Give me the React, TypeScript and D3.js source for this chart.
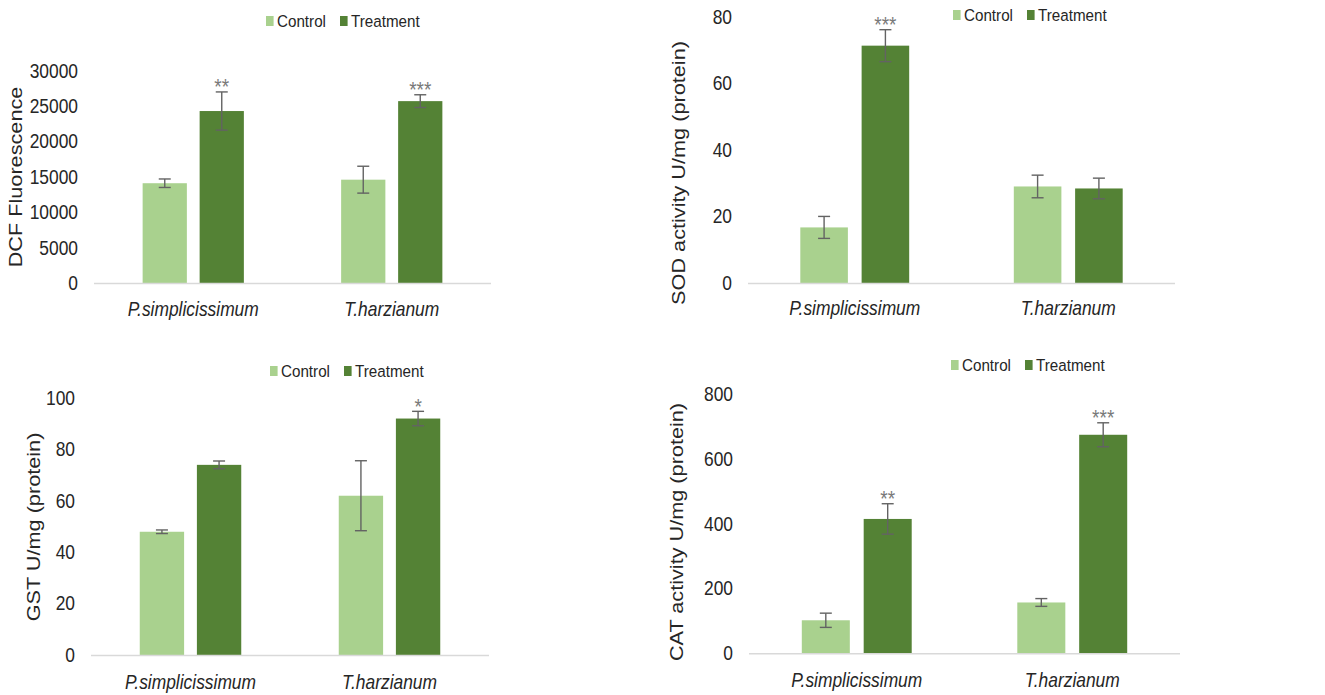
import React from "react";
import * as d3 from "d3";

// categories and series
const species = ["P.simplicissimum", "T.harzianum"];
const seriesNames = ["Control", "Treatment"];

// DCF fluorescence
const dcfControl = [14100, 14600];
const dcfControlErr = [600, 1900];
const dcfTreatment = [24300, 25700];
const dcfTreatmentErr = [2700, 900];
const dcfStars = ["**", "***"];
const dcfTicks = [0, 5000, 10000, 15000, 20000, 25000, 30000];

// SOD activity
const sodControl = [16.7, 29.0];
const sodControlErr = [3.3, 3.4];
const sodTreatment = [71.3, 28.4];
const sodTreatmentErr = [4.8, 3.1];
const sodStars = ["***", ""];
const sodTicks = [0, 20, 40, 60, 80];

// GST
const gstControl = [47.9, 61.9];
const gstControlErr = [0.7, 13.6];
const gstTreatment = [73.9, 91.9];
const gstTreatmentErr = [1.5, 2.8];
const gstStars = ["", "*"];
const gstTicks = [0, 20, 40, 60, 80, 100];

// CAT activity
const catControl = [102, 157];
const catControlErr = [22, 12];
const catTreatment = [415, 675];
const catTreatmentErr = [47, 37];
const catStars = ["**", "***"];
const catTicks = [0, 200, 400, 600, 800];

const COLORS = ["#A9D18E", "#548235"];
const FONT = "'Liberation Sans', Arial, Helvetica, sans-serif";
const TEXT = "#262626";
const SY = 1.13; // the source image is slightly stretched vertically

const panels = [
  {
    title: "DCF Fluorescence",
    control: dcfControl, controlErr: dcfControlErr,
    treatment: dcfTreatment, treatmentErr: dcfTreatmentErr,
    stars: dcfStars, ticks: dcfTicks,
    box: { x0: 94, x1: 491, y0: 283, yTop: 70.7, legX: 266, legY: 21, titleX: 15.5, titleY: 177, labY: 309 },
  },
  {
    title: "SOD activity U/mg (protein)",
    control: sodControl, controlErr: sodControlErr,
    treatment: sodTreatment, treatmentErr: sodTreatmentErr,
    stars: sodStars, ticks: sodTicks,
    box: { x0: 748, x1: 1175, y0: 283, yTop: 16.7, legX: 953, legY: 15, titleX: 678, titleY: 173, labY: 308 },
  },
  {
    title: "GST U/mg (protein)",
    control: gstControl, controlErr: gstControlErr,
    treatment: gstTreatment, treatmentErr: gstTreatmentErr,
    stars: gstStars, ticks: gstTicks,
    box: { x0: 91, x1: 489, y0: 655, yTop: 397.7, legX: 270, legY: 371, titleX: 33, titleY: 527, labY: 682 },
  },
  {
    title: "CAT activity U/mg (protein)",
    control: catControl, controlErr: catControlErr,
    treatment: catTreatment, treatmentErr: catTreatmentErr,
    stars: catStars, ticks: catTicks,
    box: { x0: 749, x1: 1180, y0: 653.3, yTop: 394.3, legX: 951, legY: 365, titleX: 676, titleY: 532, labY: 680 },
  },
];

const Label = ({ x, y, size, anchor = "middle", italic = false, rotate = false, fill = TEXT, dy = "0.35em", children }: any) => (
  <text
    transform={`translate(${x},${y}) scale(1,${SY})${rotate ? " rotate(-90)" : ""}`}
    fontSize={size}
    fontFamily={FONT}
    fontStyle={italic ? "italic" : "normal"}
    textAnchor={anchor}
    dy={dy}
    fill={fill}
  >
    {children}
  </text>
);

const Panel = ({ p }: any) => {
  const b = p.box;
  const x = d3.scaleBand().domain(species).range([b.x0, b.x1]).paddingInner(0.49).paddingOuter(0.245);
  const xs = d3.scaleBand().domain(seriesNames).range([0, x.bandwidth()]).paddingInner(0.224);
  const y = d3.scaleLinear().domain([0, p.ticks[p.ticks.length - 1]]).range([b.y0, b.yTop]);

  const rows = species.map((s, i) => ({
    s,
    vals: [
      { k: "Control", v: p.control[i], e: p.controlErr[i] },
      { k: "Treatment", v: p.treatment[i], e: p.treatmentErr[i] },
    ],
    star: p.stars[i],
  }));

  return (
    <g>
      {/* tick labels */}
      {p.ticks.map((t: number) => (
        <Label key={t} x={b.x0 - 16} y={y(t)} size={17.4} anchor="end">{t}</Label>
      ))}
      <Label x={b.titleX} y={b.titleY} size={19.2} rotate>{p.title}</Label>

      {rows.map((r) => (
        <g key={r.s}>
          {r.vals.map((d, j) => {
            const bx = (x(r.s) as number) + (xs(d.k) as number);
            const cx = bx + xs.bandwidth() / 2;
            return (
              <g key={d.k}>
                <rect x={bx} y={y(d.v)} width={xs.bandwidth()} height={b.y0 - y(d.v)} fill={COLORS[j]} />
                <g stroke="#636363" strokeWidth={1.4}>
                  <line x1={cx} x2={cx} y1={y(d.v - d.e)} y2={y(d.v + d.e)} />
                  <line x1={cx - 6} x2={cx + 6} y1={y(d.v + d.e)} y2={y(d.v + d.e)} />
                  <line x1={cx - 6} x2={cx + 6} y1={y(d.v - d.e)} y2={y(d.v - d.e)} />
                </g>
                {j === 1 && r.star && (
                  <Label x={cx} y={y(d.v + d.e) + 2.5} size={19} dy="0" fill="#7a7a7a">
                    {r.star}
                  </Label>
                )}
              </g>
            );
          })}
          <Label x={(x(r.s) as number) + x.bandwidth() / 2} y={b.labY} size={17.4} italic>{r.s}</Label>
        </g>
      ))}

      {/* category axis */}
      <line x1={b.x0} x2={b.x1} y1={b.y0 + 0.5} y2={b.y0 + 0.5} stroke="#d9d9d9" strokeWidth={1.5} />

      {/* legend */}
      {seriesNames.map((n, i) => (
        <g key={n}>
          <rect x={b.legX + i * 74} y={b.legY - 5} width={7.6} height={10} fill={COLORS[i]} />
          <Label x={b.legX + i * 74 + 11} y={b.legY} size={15.2} anchor="start">{n}</Label>
        </g>
      ))}
    </g>
  );
};

export default function App() {
  return (
    <svg
      width={1325}
      height={695}
      style={{ position: "absolute", left: 0, top: 0, background: "#fff" }}
    >
      {panels.map((p) => (
        <Panel key={p.title} p={p} />
      ))}
    </svg>
  );
}
